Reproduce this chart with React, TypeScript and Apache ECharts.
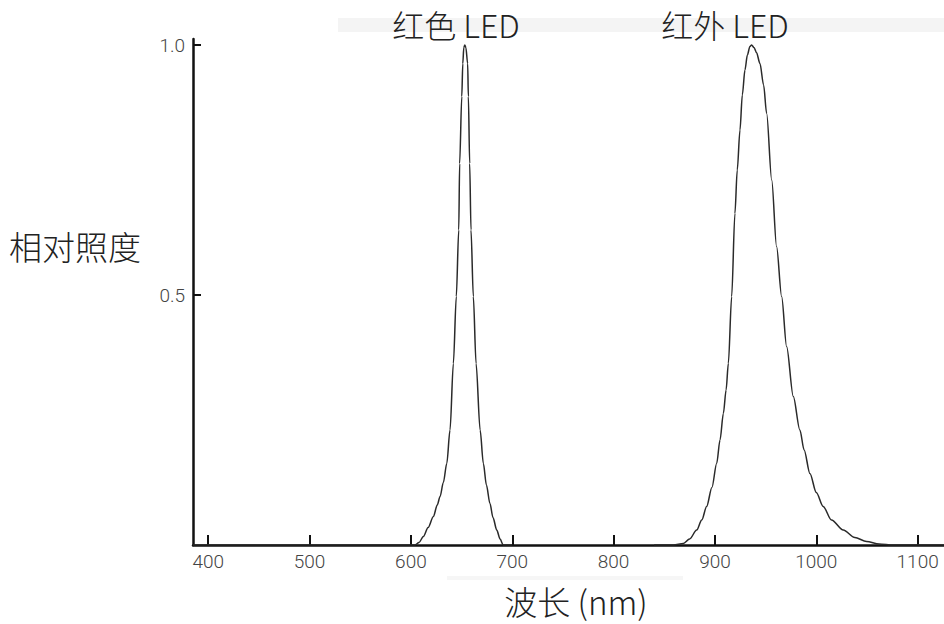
import React, { useEffect, useRef } from "react";
import * as echarts from "echarts";

// Relative illuminance spectra (wavelength nm, relative value)
const redNm = [385, 600, 604, 608, 612.3, 617, 622.2, 626, 628.8, 632, 635.4, 638.6, 641.9, 644.8, 647.2, 648.1, 650.2, 651.2, 652.2, 653.2, 654.2, 656, 656.7, 658, 659.3, 661.6, 664.3, 668.3, 671.5, 674.5, 678, 681, 684.7, 688, 691, 700];
const redVal = [0, 0, 0, 0.005, 0.017, 0.035, 0.057, 0.08, 0.097, 0.125, 0.163, 0.23, 0.363, 0.497, 0.63, 0.763, 0.897, 0.963, 0.995, 1.0, 0.995, 0.963, 0.897, 0.763, 0.63, 0.497, 0.363, 0.23, 0.163, 0.12, 0.083, 0.055, 0.03, 0.012, 0, 0];

const irNm = [840, 859, 868.8, 875, 882, 887, 891.8, 897, 901.7, 905, 908.3, 911, 913.2, 916.5, 919.7, 922, 924.7, 927, 929.6, 932, 934.5, 936.2, 938.5, 941, 944.4, 948, 951, 956, 960.8, 965.8, 970.7, 977.3, 983.8, 988, 993.7, 1000, 1006.8, 1015, 1026.6, 1038, 1049.6, 1062, 1075.9, 1126];
const irVal = [0, 0, 0.003, 0.012, 0.03, 0.05, 0.077, 0.115, 0.163, 0.21, 0.263, 0.31, 0.363, 0.497, 0.663, 0.75, 0.83, 0.9, 0.95, 0.98, 0.997, 1.0, 0.995, 0.985, 0.963, 0.92, 0.863, 0.73, 0.597, 0.497, 0.397, 0.297, 0.23, 0.19, 0.143, 0.105, 0.077, 0.05, 0.03, 0.015, 0.007, 0.002, 0, 0];

const xTicks = [400, 500, 600, 700, 800, 900, 1000, 1100];
const yTicks = [0.5, 1.0];

const seriesTitles = ["红色 LED", "红外 LED"];
const yName = "相对照度";
const xName = "波长 (nm)";

const CJK = '"Noto Sans CJK SC", "Noto Sans", sans-serif';
const NUM = 'Roboto, "Liberation Sans", sans-serif';

export default function App() {
  const ref = useRef<HTMLDivElement>(null);
  useEffect(() => {
    if (!ref.current) return;
    const chart = echarts.init(ref.current, undefined, { renderer: "svg" });
    const pairs = (xs: number[], ys: number[]) => xs.map((x, i) => [x, ys[i]]);
    chart.setOption({
      animation: false,
      backgroundColor: "#ffffff",
      grid: { left: 193, right: 0, top: 39, bottom: 79, containLabel: false },
      xAxis: {
        type: "value",
        min: 385,
        max: 1126,
        axisLine: { lineStyle: { color: "#111", width: 2.5 } },
        axisTick: { inside: true, length: 10, customValues: xTicks, lineStyle: { color: "#111", width: 2 } },
        axisLabel: {
          customValues: xTicks,
          fontSize: 19,
          fontWeight: 300,
          fontFamily: NUM,
          color: "#444",
          margin: 7,
          formatter: (v: number) => String(Math.round(v)),
        },
        splitLine: { show: false },
      },
      yAxis: {
        type: "value",
        min: 0,
        max: 1.012,
        axisLine: { show: true, lineStyle: { color: "#111", width: 2.5 } },
        axisTick: { show: true, inside: true, length: 8, customValues: yTicks, lineStyle: { color: "#111", width: 2 } },
        axisLabel: {
          customValues: yTicks,
          fontSize: 19,
          fontWeight: 300,
          fontFamily: NUM,
          color: "#444",
          margin: 8,
          formatter: (v: number) => v.toFixed(1),
        },
        splitLine: { show: false },
      },
      graphic: [
        { type: "rect", z: 0, shape: { x: 338, y: 18, width: 606, height: 14 }, style: { fill: "#f4f4f4" } },
        { type: "rect", z: 0, shape: { x: 447, y: 576, width: 236, height: 4 }, style: { fill: "#f6f6f6" } },
        { type: "text", z: 10, x: 456, y: 24, style: { text: seriesTitles[0], font: `300 32px ${CJK}`, fill: "#222", textAlign: "center", textVerticalAlign: "middle" } },
        { type: "text", z: 10, x: 725, y: 24, style: { text: seriesTitles[1], font: `300 32px ${CJK}`, fill: "#222", textAlign: "center", textVerticalAlign: "middle" } },
        { type: "text", z: 10, x: 9, y: 246, style: { text: yName, font: `300 33px ${CJK}`, fill: "#222", textAlign: "left", textVerticalAlign: "middle" } },
        { type: "text", z: 10, x: 576, y: 601, style: { text: xName, font: `300 33px ${CJK}`, fill: "#222", textAlign: "center", textVerticalAlign: "middle" } },
      ],
      series: [
        {
          type: "line",
          name: seriesTitles[0],
          data: pairs(redNm, redVal),
          showSymbol: false,
          smooth: 0.3,
          smoothMonotone: "x",
          lineStyle: { color: "#2a2a2a", width: 1.5 },
          z: 3,
        },
        {
          type: "line",
          name: seriesTitles[1],
          data: pairs(irNm, irVal),
          showSymbol: false,
          smooth: 0.3,
          smoothMonotone: "x",
          lineStyle: { color: "#2a2a2a", width: 1.5 },
          z: 3,
        },
      ],
    });
    return () => chart.dispose();
  }, []);
  return <div ref={ref} style={{ position: "fixed", left: 0, top: 0, width: 944, height: 624 }} />;
}
